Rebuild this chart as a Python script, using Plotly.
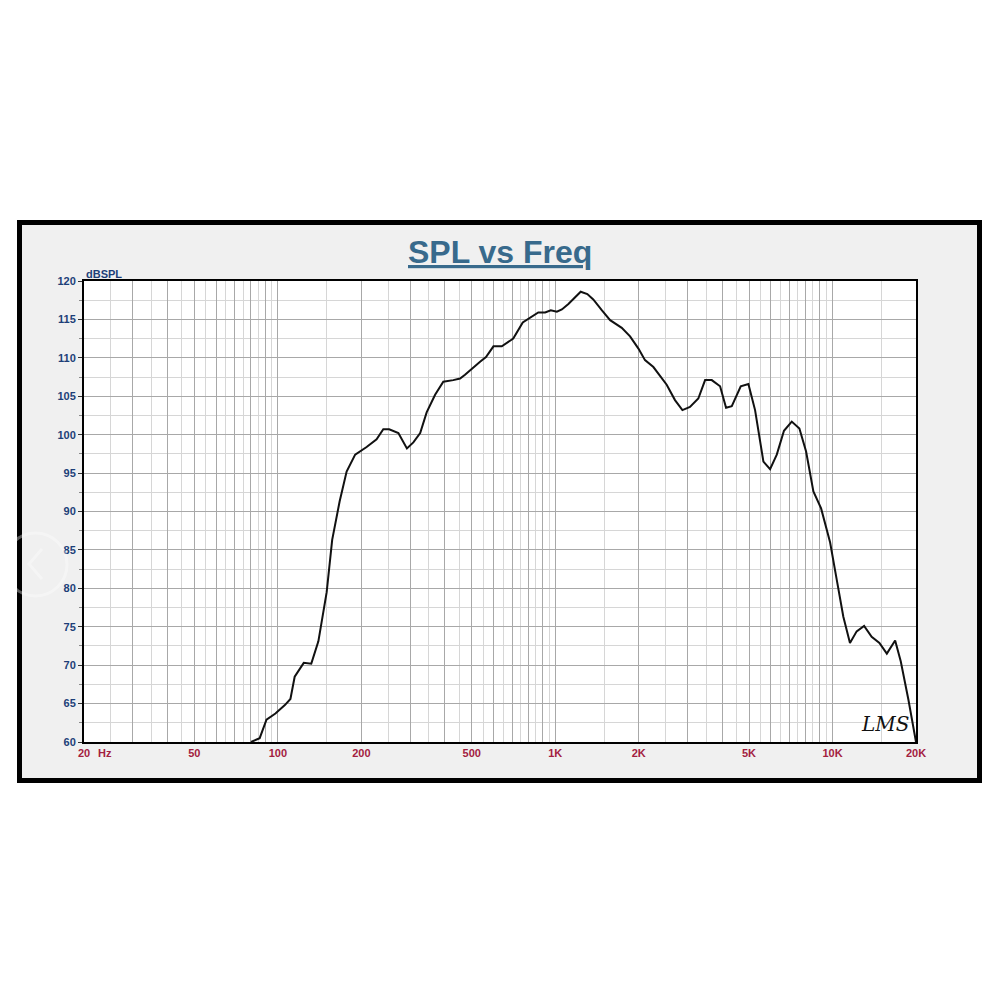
import plotly.graph_objects as go

# SPL response
freq_hz = [80, 86, 91, 98, 106, 111, 115, 124, 132, 140, 150, 157, 167, 177, 190,
           209, 227, 240, 252, 272, 292, 308, 326, 344, 369, 395, 429, 454, 473,
           500, 536, 563, 599, 642, 706, 764, 811, 869, 920, 964, 1014, 1057, 1116,
           1179, 1236, 1306, 1372, 1472, 1578, 1738, 1862, 1996, 2108, 2260, 2524,
           2704, 2876, 3062, 3282, 3472, 3669, 3932, 4132, 4333, 4668, 4974, 5257,
           5634, 5955, 6295, 6683, 7129, 7596, 8030, 8532, 9096, 9800, 10360, 10940,
           11560, 12220, 13000, 13840, 14760, 15700, 16820, 17620, 18780, 20000]
spl_db = [60.0, 60.5, 62.9, 63.7, 64.8, 65.6, 68.5, 70.3, 70.2, 73.1, 79.5, 86.3, 91.3, 95.2, 97.4,
          98.4, 99.4, 100.7, 100.7, 100.2, 98.2, 99.0, 100.2, 102.9, 105.2, 106.9, 107.1, 107.3, 107.8,
          108.6, 109.5, 110.1, 111.5, 111.5, 112.5, 114.6, 115.2, 115.9, 115.9, 116.2, 116.0, 116.3, 117.0,
          117.8, 118.6, 118.3, 117.6, 116.2, 114.9, 113.9, 112.8, 111.2, 109.7, 108.8, 106.5,
          104.5, 103.2, 103.6, 104.7, 107.1, 107.1, 106.3, 103.5, 103.7, 106.3, 106.6, 103.2,
          96.5, 95.5, 97.4, 100.5, 101.7, 100.8, 97.8, 92.6, 90.4, 86.0, 81.1, 76.3,
          72.9, 74.4, 75.1, 73.7, 72.9, 71.5, 73.2, 70.5, 65.5, 60.0]

# axis ticks
x_label_vals = [20, 50, 100, 200, 500, 1000, 2000, 5000, 10000, 20000]
x_label_text = ["20", "50", "100", "200", "500", "1K", "2K", "5K", "10K", "20K"]
y_ticks = [60, 65, 70, 75, 80, 85, 90, 95, 100, 105, 110, 115, 120]

# grid positions (log paper): darker at whole multiples, lighter at the halves
major_x = ([20, 30, 40, 50, 60, 70, 80, 90]
           + [m * 100 for m in range(1, 10)]
           + [m * 1000 for m in range(1, 10)]
           + [10000, 20000])
minor_x = ([m * 10 for m in (2.5, 3.5, 4.5, 5.5, 6.5, 7.5, 8.5, 9.5)]
           + [m * d for d in (100, 1000) for m in (1.5, 2.5, 3.5, 4.5, 5.5, 6.5, 7.5, 8.5, 9.5)]
           + [15000])
tick_text = [x_label_text[x_label_vals.index(v)] if v in x_label_vals else "" for v in major_x]

# page offset (body margin) and plot box in page pixels
OFF = 8
L, R, T, B = 84, 916, 281, 742
W = H = 992


def px(x):
    return (x - L) / (R - L)


def py(y):
    return (B - y) / (B - T)


fig = go.Figure()
fig.add_trace(go.Scatter(
    x=freq_hz, y=spl_db, mode="lines",
    line=dict(color="#111111", width=2),
    showlegend=False, hoverinfo="x+y",
))

navy = "#1d3f78"
crimson = "#a3203f"
tfont = "Liberation Sans, Arial, sans-serif"

fig.update_layout(
    width=W, height=H, autosize=False,
    margin=dict(l=L - OFF, r=W - (R - OFF), t=T - OFF, b=H - (B - OFF)),
    paper_bgcolor="white",
    plot_bgcolor="white",
    font=dict(family=tfont),
    xaxis=dict(
        type="log", range=[1.30103, 4.30103],
        tickmode="array", tickvals=major_x, ticktext=tick_text,
        showgrid=True, gridcolor="#a8a8a8", gridwidth=1,
        minor=dict(tickmode="array", tickvals=minor_x, showgrid=True,
                   gridcolor="#d6d6d6", gridwidth=1, ticklen=0),
        ticks="", tickfont=dict(size=11, color=crimson, family=tfont, weight="bold"),
        showline=True, mirror=True, linecolor="black", linewidth=2,
        zeroline=False,
    ),
    yaxis=dict(
        range=[60, 120], tickmode="array", tickvals=y_ticks,
        showgrid=True, gridcolor="#a8a8a8", gridwidth=1,
        minor=dict(dtick=2.5, tick0=60, showgrid=True, gridcolor="#d6d6d6",
                   gridwidth=1, ticks="outside", ticklen=3, tickcolor="#888888"),
        ticks="outside", ticklen=4, tickcolor="#333333",
        tickfont=dict(size=11, color=navy, family=tfont, weight="bold"),
        showline=True, mirror=True, linecolor="black", linewidth=2,
        zeroline=False,
    ),
    shapes=[
        # outer framed panel
        dict(type="rect", xref="paper", yref="paper", layer="below",
             x0=px(19.5), x1=px(979.5), y0=py(780.5), y1=py(222.5),
             line=dict(color="black", width=5), fillcolor="#f0f0f0"),
        # white plot area on top of the panel fill
        dict(type="rect", xref="paper", yref="paper", layer="below",
             x0=0, x1=1, y0=0, y1=1, line=dict(width=0), fillcolor="white"),
        # faint gallery arrow button
        dict(type="circle", xref="paper", yref="paper", layer="above",
             x0=px(4), x1=px(67), y0=py(596), y1=py(533),
             line=dict(color="rgba(255,255,255,0.35)", width=3)),
        dict(type="path", xref="paper", yref="paper", layer="above",
             path=f"M {px(42)} {py(549)} L {px(29)} {py(564)} L {px(42)} {py(579)}",
             line=dict(color="rgba(255,255,255,0.35)", width=3)),
    ],
    annotations=[
        dict(text="<u><b>SPL vs Freq</b></u>", xref="paper", yref="paper",
             x=0.5, y=py(252), xanchor="center", yanchor="middle", showarrow=False,
             font=dict(size=32, color="#386a8c", family=tfont)),
        dict(text="<b>dBSPL</b>", xref="paper", yref="paper",
             x=0, y=py(273.5), xanchor="left", yanchor="middle", showarrow=False,
             font=dict(size=11, color=navy, family=tfont)),
        dict(text="<b>Hz</b>", xref="paper", yref="paper",
             x=px(105), y=py(753), xanchor="center", yanchor="middle", showarrow=False,
             font=dict(size=11, color=crimson, family=tfont)),
        dict(text="<i>LMS</i>", xref="paper", yref="paper",
             x=px(885), y=py(724), xanchor="center", yanchor="middle", showarrow=False,
             font=dict(size=20, color="#111111", family="DejaVu Serif")),
    ],
)

fig.write_html("out.html")
